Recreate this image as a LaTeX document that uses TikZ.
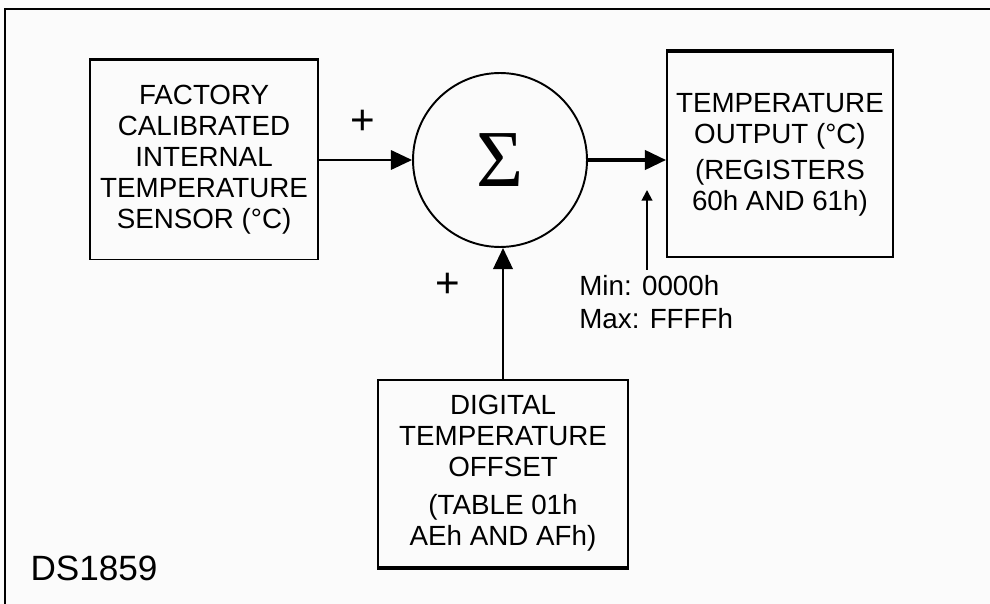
\documentclass[tikz,border=0pt]{standalone}
\usepackage{fontspec}
\setmainfont{Liberation Sans}
\newfontfamily\sigmafont{Liberation Serif}
\usetikzlibrary{arrows.meta}
\newcommand{\blocktxt}{\fontsize{15.8}{17.6}\selectfont}

\begin{document}
\begin{tikzpicture}[x=0.02cm, y=-0.02cm, node distance=3em,
	blk/.style={draw, line width=1.1pt, align=center, font=\blocktxt, inner sep=0pt},
	sig/.style={-{Triangle[length=12pt,width=11pt]}, line width=1.3pt},
	smallsig/.style={-{Triangle[length=6pt,width=6pt]}, line width=1.1pt},
	sign/.style={font=\fontsize{24}{24}\selectfont, inner sep=0pt}]

	\useasboundingbox (0,0) rectangle (990,604);
	\fill[white!97!gray] (0,0) rectangle (990,604);
	\draw[line width=1.4pt] (990,9) -- (5,9) -- (5,604);

	\node[circle, draw, line width=1.1pt, minimum size=3.48cm, inner sep=0pt] (sum) at (500,160) {\sigmafont\fontsize{46}{50}\selectfont Σ};

	\node[blk, left of=sum, node distance=5.92cm, minimum width=4.56cm, minimum height=3.98cm] (sensor) {FACTORY\\CALIBRATED\\INTERNAL\\TEMPERATURE\\SENSOR (°C)};
	\node[blk, right of=sum, node distance=5.6cm, yshift=0.11cm, minimum width=4.52cm, minimum height=4.1cm] (output) {TEMPERATURE\\OUTPUT (°C)\\[3pt](REGISTERS\\60h AND 61h)};
	\node[blk, below of=sum, node distance=6.27cm, xshift=0.06cm, minimum width=5cm, minimum height=3.74cm] (offset) {DIGITAL\\TEMPERATURE\\OFFSET\\[4pt](TABLE 01h\\AEh AND AFh)};

	% heavier edges
	\draw[line width=2.2pt] (sensor.north west) -- (sensor.north east);
	\draw[line width=2.2pt] (output.north west) -- (output.north east);
	\draw[line width=2.2pt] (offset.south west) -- (offset.south east);

	\draw[sig] (sensor) -- (sum);
	\draw[sig, line width=1.8pt] (sum.east) -- (sum.east -| output.west);
	\draw[sig, line width=1.6pt] (offset.north) -- (offset.north |- sum.south);

	\node[sign] (plusa) at (363,122) {+};
	\node[sign] (plusb) at (448,285) {+};

	\node[align=left, font=\fontsize{15.8}{18.7}\selectfont, anchor=north west, inner sep=0pt] (range) at (579,275) {Min: 0000h\\Max: FFFFh};
	\coordinate (rangetip) at (647,190);
	\draw[smallsig] ([yshift=0.1cm]range.north -| rangetip) -- (rangetip);

	\node[font=\fontsize{20}{20}\selectfont] (part) at (94,568) {DS1859};
\end{tikzpicture}
\end{document}
